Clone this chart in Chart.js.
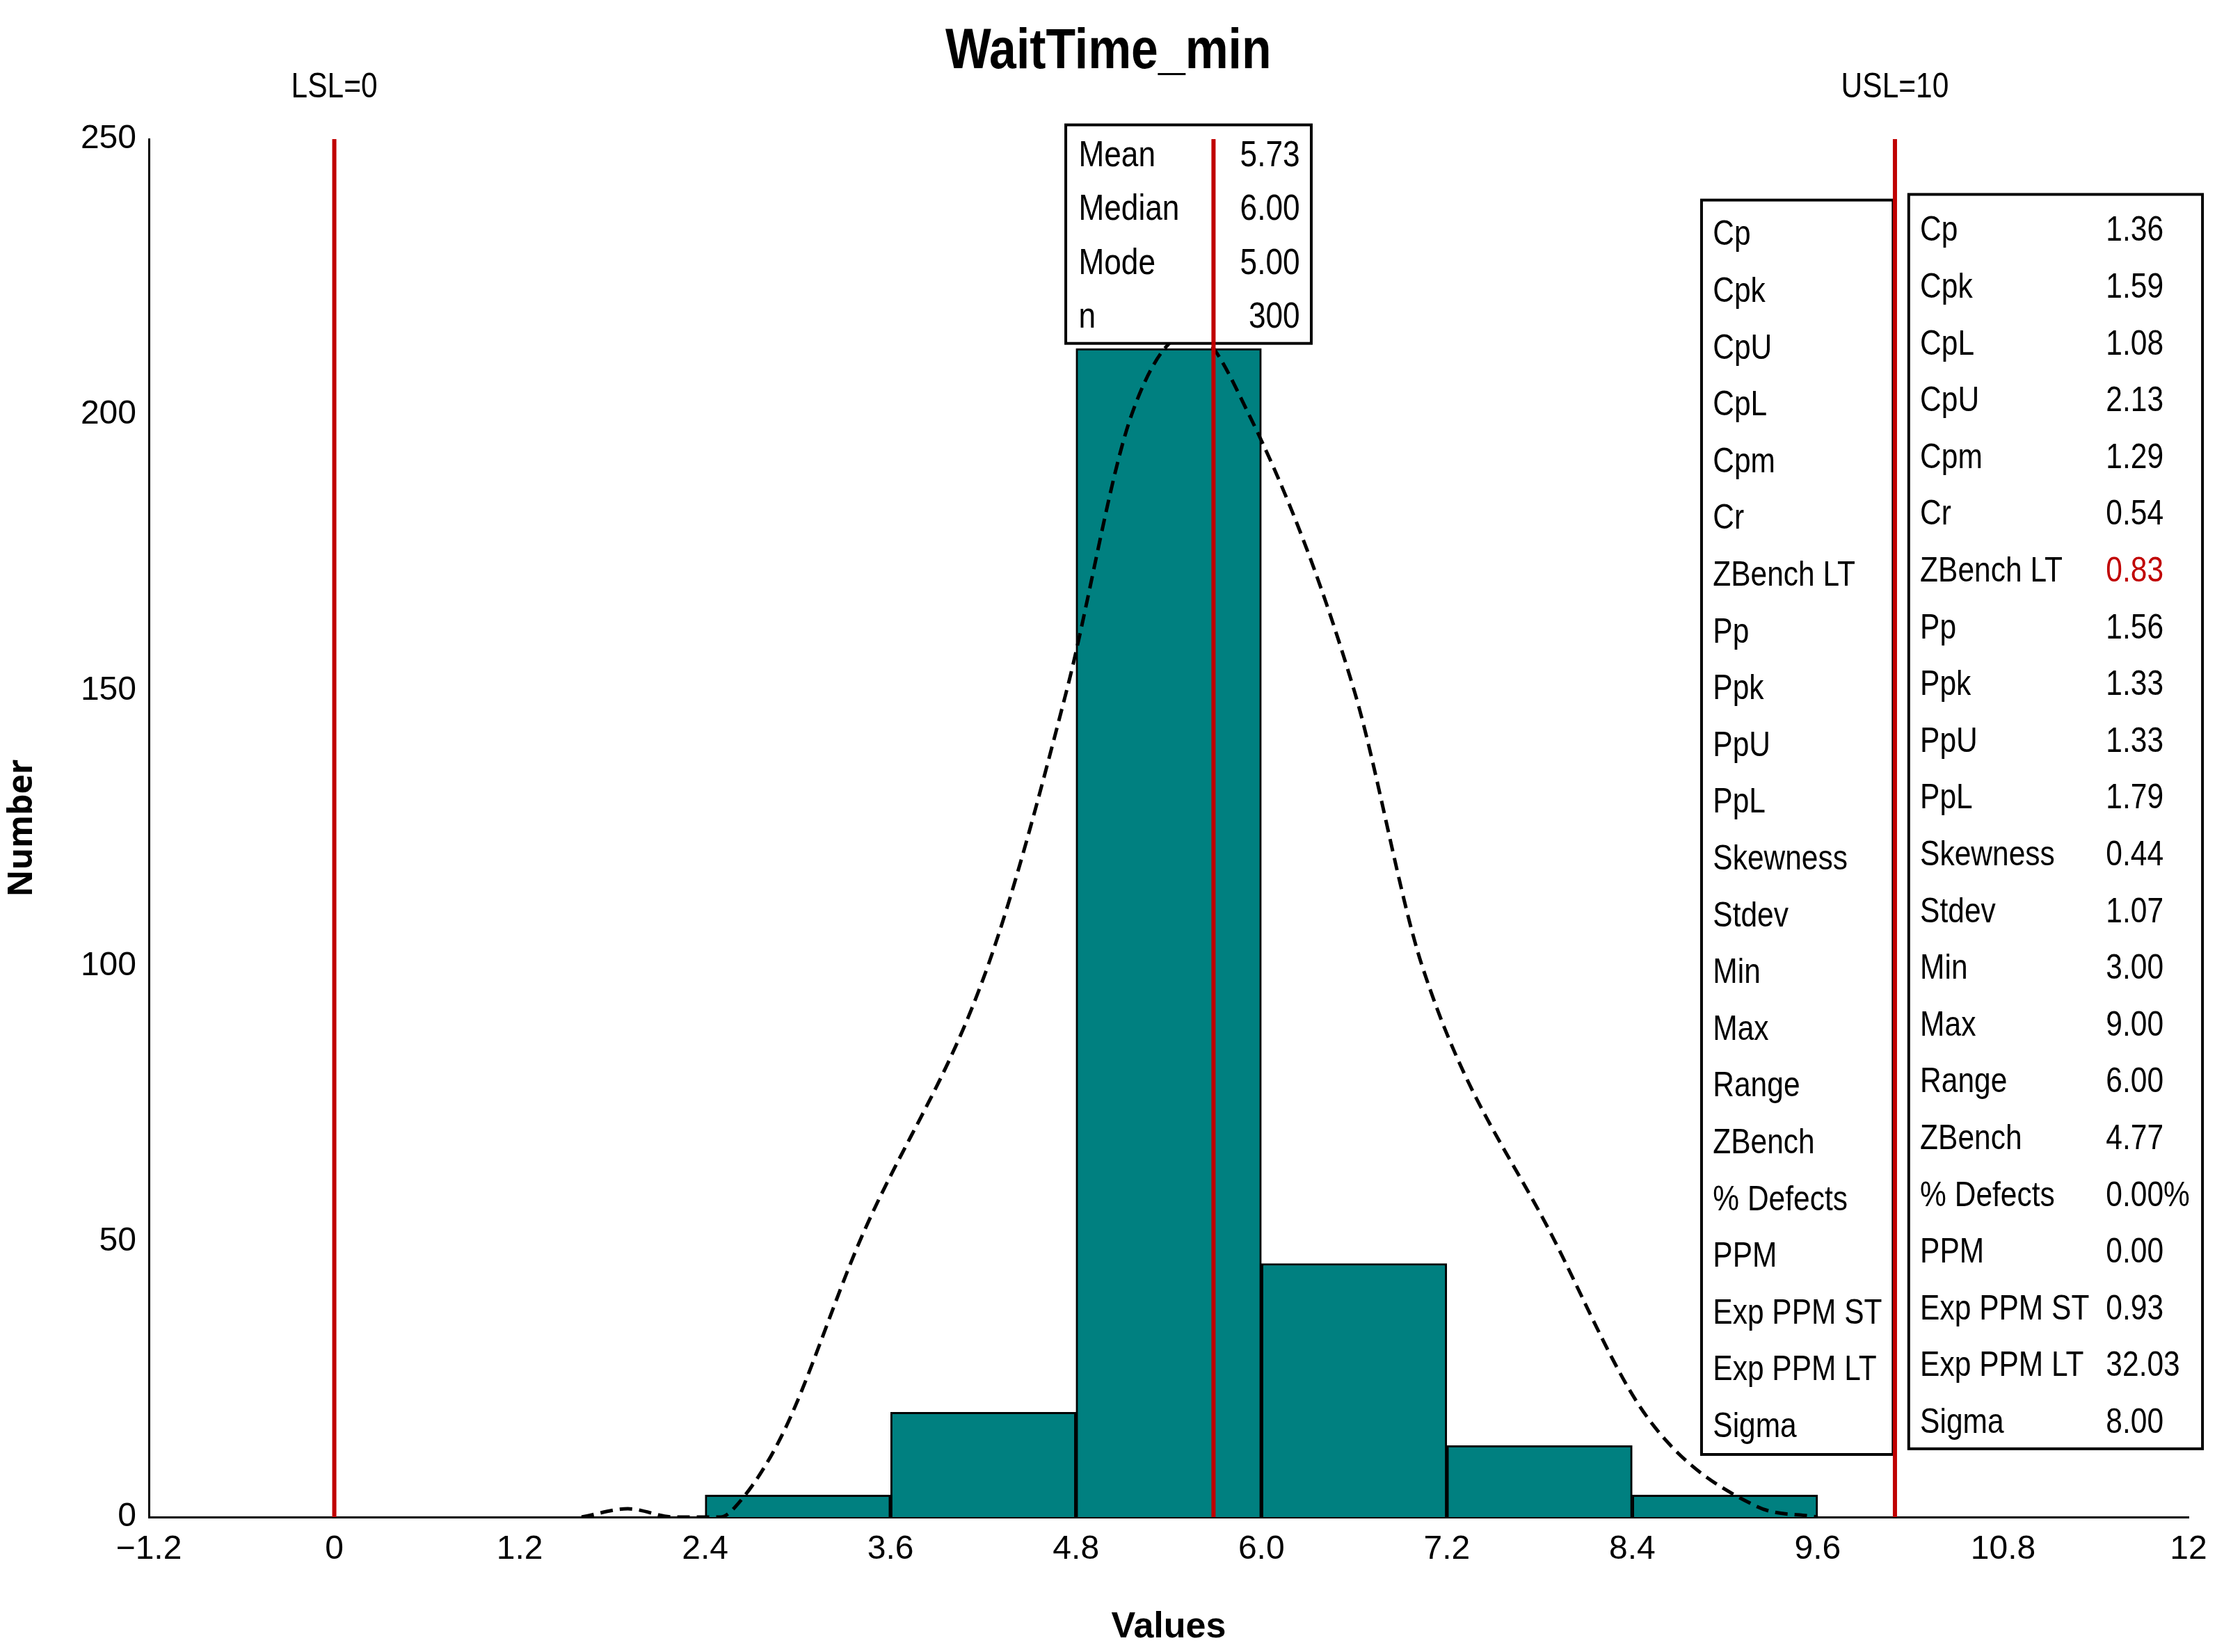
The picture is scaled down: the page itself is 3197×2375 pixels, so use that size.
<!DOCTYPE html>
<html><head><meta charset="utf-8">
<script src="https://cdn.jsdelivr.net/npm/chart.js@4"></script>
<style>html,body{margin:0;padding:0;background:#fff}#wrap{width:3197px;height:2375px}</style>
</head><body><div id="wrap"><canvas id="c" width="3197" height="2375"></canvas></div>
<script>
const binCenters=[3.0,4.2,5.4,6.6,7.8,9.0];
const binCounts=[4,19,212,46,13,4];
const curveX=[1.6,1.9,2.2,2.5,2.6,2.9,3.4,4.23,4.74,5.16,5.55,5.92,6.6,7.04,7.9,8.5,9.2,9.6];
const curveY=[0,1.5,0,0,2,15,50,100,150,200,215,200,150,100,50,18,2,0];
const xTickLabels=["\u22121.2","0","1.2","2.4","3.6","4.8","6.0","7.2","8.4","9.6","10.8","12"];
const LSL=0, USL=10.1, MEAN=5.69;
const statsA=[["Mean","5.73"],["Median","6.00"],["Mode","5.00"],["n","300"]];
const capLabels=["Cp","Cpk","CpU","CpL","Cpm","Cr","ZBench LT","Pp","Ppk","PpU","PpL","Skewness","Stdev","Min","Max","Range","ZBench","% Defects","PPM","Exp PPM ST","Exp PPM LT","Sigma"];
const capNames=["Cp","Cpk","CpL","CpU","Cpm","Cr","ZBench LT","Pp","Ppk","PpU","PpL","Skewness","Stdev","Min","Max","Range","ZBench","% Defects","PPM","Exp PPM ST","Exp PPM LT","Sigma"];
const capValues=["1.36","1.59","1.08","2.13","1.29","0.54","0.83","1.56","1.33","1.33","1.79","0.44","1.07","3.00","9.00","6.00","4.77","0.00%","0.00","0.93","32.03","8.00"];
const F="'Liberation Sans Narrow','Arial Narrow','Liberation Sans',Arial,sans-serif";
const S=2.04;
function txt(c,t,x,y,align){ // horizontally condensed text
 c.save();c.translate(x,y);c.scale(0.85,1);c.textAlign=align;c.fillText(t,0,0);c.restore();
}
const overlay={id:'overlay',afterDraw(ch){
 const c=ch.ctx;c.save();
 c.fillStyle='#000';c.textBaseline='middle';
 c.font="bold 82px "+F;
 txt(c,"WaitTime_min",781*S,37*S,'center');
 c.font="50px "+F;
 const xs=ch.scales.x;
 txt(c,"LSL=0",xs.getPixelForValue(LSL),62*S,'center');
 txt(c,"USL=10",xs.getPixelForValue(USL),62*S,'center');
 c.lineWidth=4;c.strokeStyle='#000';c.fillStyle='#fff';
 c.fillRect(751*S,88*S,173*S,154*S);c.strokeRect(751*S,88*S,173*S,154*S);
 c.font="52px "+F;c.fillStyle='#000';
 statsA.forEach((r,i)=>{const y=(110+i*38)*S;txt(c,r[0],760*S,y,'left');txt(c,r[1],916*S,y,'right');});
 c.fillStyle='#fff';
 c.fillRect(1199*S,141*S,135*S,884*S);c.strokeRect(1199*S,141*S,135*S,884*S);
 c.fillRect(1345*S,137*S,207*S,884*S);c.strokeRect(1345*S,137*S,207*S,884*S);
 c.font="50px "+F;
 capLabels.forEach((l,i)=>{c.fillStyle='#000';txt(c,l,1207*S,(166+i*40)*S,'left');});
 capNames.forEach((l,i)=>{const y=(163+i*40)*S;c.fillStyle='#000';txt(c,l,1353*S,y,'left');
   c.fillStyle=(l==="ZBench LT")?'#C00000':'#000';txt(c,capValues[i],1484*S,y,'left');});
 c.strokeStyle='#C00000';c.lineWidth=6;
 [MEAN,USL].forEach(v=>{const x=xs.getPixelForValue(v);c.beginPath();c.moveTo(x,ch.chartArea.top);c.lineTo(x,ch.chartArea.bottom);c.stroke();});
 c.restore();
}};
new Chart(document.getElementById('c'),{
 data:{datasets:[
  {type:'bar',data:binCenters.map((x,i)=>({x,y:binCounts[i]})),backgroundColor:'#008080',borderColor:'#000',borderWidth:3,barPercentage:1,categoryPercentage:1,order:3},
  {type:'line',data:curveX.map((x,i)=>({x,y:curveY[i]})),borderColor:'#000',borderWidth:5,borderDash:[18,10],pointRadius:0,tension:0.4,cubicInterpolationMode:'monotone',fill:false,order:1},
  {type:'line',data:[{x:LSL,y:0},{x:LSL,y:250}],borderColor:'#C00000',borderWidth:6,pointRadius:0,order:0}
 ]},
 options:{responsive:false,animation:false,devicePixelRatio:1,
  layout:{padding:{top:200,right:51,left:0,bottom:0}},
  plugins:{legend:{display:false},tooltip:{enabled:false}},
  scales:{
   x:{type:'linear',offset:false,min:-1.2,max:12,afterBuildTicks(s){s.ticks=xTickLabels.map((l,i)=>({value:-1.2+1.2*i}));},
     ticks:{callback:(v,i)=>xTickLabels[i],color:'#000',font:{size:48,family:F},padding:8,maxRotation:0,autoSkip:false},
     grid:{display:false,offset:false,tickLength:10,tickColor:'#000'},border:{color:'#000',width:3},
     title:{display:true,text:'Values',color:'#000',font:{size:52,weight:'bold',family:F}},
     afterFit(s){s.height=194;}},
   y:{min:0,max:250,ticks:{stepSize:50,color:'#000',font:{size:48,family:F},padding:8},
     grid:{display:false,tickLength:10,tickColor:'#000'},border:{color:'#000',width:3},
     title:{display:true,text:'Number',color:'#000',font:{size:48,weight:'bold',family:'Open Sans, sans-serif'}},
     afterFit(s){s.width=214;}}
  }},
 plugins:[overlay]
});
</script></body></html>
